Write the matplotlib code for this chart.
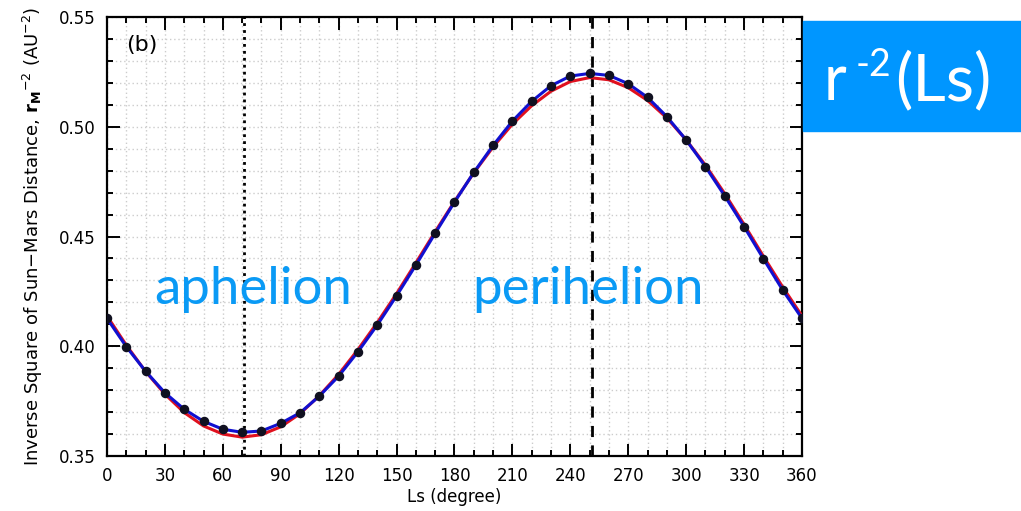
import matplotlib.pyplot as plt
from matplotlib.ticker import MultipleLocator

# Данные
ls_deg = list(range(0, 361, 10))
r2_points = [0.4127, 0.3998, 0.3886, 0.3788, 0.3713, 0.3658, 0.3622, 0.3608, 0.3614, 0.3649,
             0.3697, 0.3773, 0.3864, 0.3975, 0.4097, 0.4230, 0.4370, 0.4515, 0.4657, 0.4792,
             0.4915, 0.5026, 0.5116, 0.5187, 0.5231, 0.5243, 0.5234, 0.5196, 0.5134, 0.5046,
             0.4940, 0.4818, 0.4685, 0.4545, 0.4399, 0.4256, 0.4127]
r2_fit = [0.4138, 0.4005, 0.3885, 0.3782, 0.3698, 0.3637, 0.3600, 0.3586, 0.3597, 0.3633,
          0.3693, 0.3775, 0.3872, 0.3985, 0.4108, 0.4240, 0.4380, 0.4522, 0.4660, 0.4790,
          0.4908, 0.5012, 0.5096, 0.5162, 0.5206, 0.5224, 0.5214, 0.5178, 0.5120, 0.5040,
          0.4940, 0.4825, 0.4695, 0.4555, 0.4410, 0.4270, 0.4138]
ls_aphelion = 71
ls_perihelion = 251

fig = plt.figure(figsize=(10.21, 5.11), dpi=100)
ax = fig.add_axes([0.1048, 0.1076, 0.6807, 0.8591])

# Сетка
ax.xaxis.set_major_locator(MultipleLocator(30))
ax.xaxis.set_minor_locator(MultipleLocator(10))
ax.yaxis.set_major_locator(MultipleLocator(0.05))
ax.yaxis.set_minor_locator(MultipleLocator(0.01))
ax.grid(which='both', color='#cccccc', linestyle=(0, (1, 2)), linewidth=1.0)
ax.set_axisbelow(True)

# Кривые и точки
ax.plot(ls_deg, r2_fit, color='#e0101e', linewidth=2.2, zorder=3)
ax.plot(ls_deg, r2_points, color='#1010d0', linewidth=2.2, zorder=4)
ax.scatter(ls_deg, r2_points, s=34, color='#101020', zorder=5)

# Афелий и перигелий
ax.axvline(ls_aphelion, color='black', linestyle=(0, (1, 1.5)), linewidth=2, zorder=2)
ax.axvline(ls_perihelion, color='black', linestyle=(0, (4, 3)), linewidth=2, zorder=2)

ax.set_xlim(0, 360)
ax.set_ylim(0.35, 0.55)
ax.yaxis.set_major_formatter(plt.FormatStrFormatter('%.2f'))

ax.tick_params(which='both', direction='in', top=True, right=True, labelsize=12, width=1.4)
ax.tick_params(which='major', length=9, pad=8)
ax.tick_params(which='minor', length=4.5)
for s in ax.spines.values():
    s.set_linewidth(1.6)

ax.set_xlabel('Ls (degree)', fontsize=12, labelpad=2)
ax.set_ylabel(r'Inverse Square of Sun$-$Mars Distance, $\mathbf{r_M}^{-2}$ (AU$^{-2}$)',
              fontsize=13, labelpad=10)

ax.text(0.028, 0.96, '(b)', transform=ax.transAxes, fontsize=16, va='top')

ax.text(75.6, 0.4191, 'aphelion', color='#0a9af5', fontsize=38, family='Lato', ha='center', va='baseline')
ax.text(249, 0.4191, 'perihelion', color='#0a9af5', fontsize=38, family='Lato', ha='center', va='baseline')

# Синий блок справа
W, H = 1021, 511
fig.patches.append(plt.Rectangle((803 / W, 1 - 131 / H), 218 / W, 110 / H,
                                 transform=fig.transFigure, color='#0096ff', zorder=0))
fig.text(824 / W, 1 - 100 / H, 'r', color='white', fontsize=45, family='Lato', va='baseline')
fig.text(856 / W, 1 - 76 / H, '-2', color='white', fontsize=27, family='Lato', va='baseline')
fig.text(895 / W, 1 - 100 / H, '(Ls)', color='white', fontsize=47, family='Lato', va='baseline')

plt.savefig('out.png', dpi=100)
